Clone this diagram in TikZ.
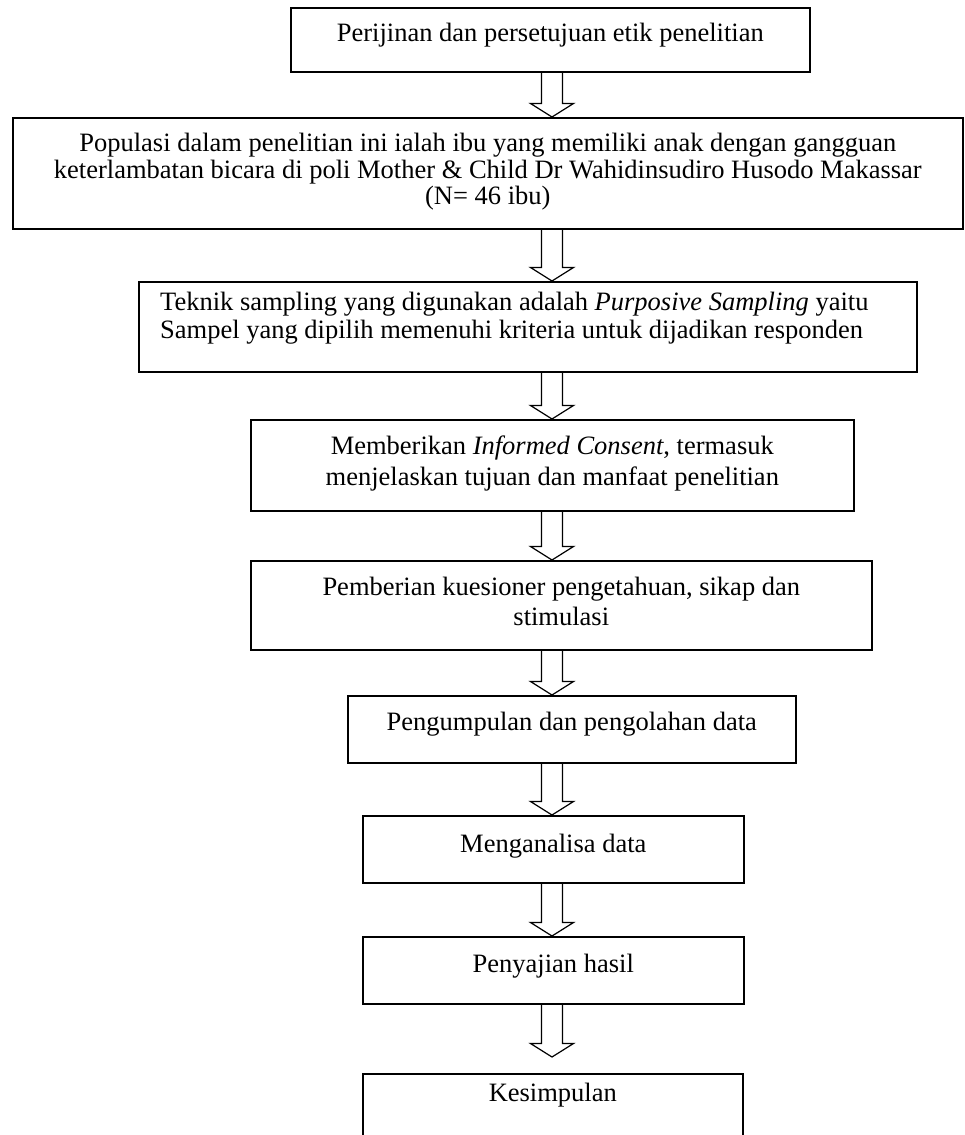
\documentclass[tikz,border=0pt]{standalone}
\usepackage{fontspec}
\setmainfont{Liberation Serif}
\begin{document}
\begin{tikzpicture}[x=1pt, y=1pt,
	box/.style={draw, line width=1.6pt, inner sep=0pt, anchor=north west},
	txt/.style={font=\fontsize{26.5}{30}\selectfont, inner sep=0pt, anchor=north, align=center},
	blockarrow/.style={draw, line width=1.2pt}]
	\useasboundingbox (0,0) rectangle (964,-1135);
	\coordinate (axis) at (552,0);
	\node[box, minimum width=519, minimum height=64] (b1) at (290,-7) {};
	\node[box, minimum width=950, minimum height=111] at ([xshift=-278, yshift=-110]b1.north west) (b2) {};
	\node[box, minimum width=778, minimum height=90] at ([xshift=126, yshift=-164]b2.north west) (b3) {};
	\node[box, minimum width=603, minimum height=91] at ([xshift=112, yshift=-138]b3.north west) (b4) {};
	\node[box, minimum width=621, minimum height=89] at ([yshift=-141]b4.north west) (b5) {};
	\node[box, minimum width=448, minimum height=67] at ([xshift=97, yshift=-135]b5.north west) (b6) {};
	\node[box, minimum width=381, minimum height=67] at ([xshift=15, yshift=-120]b6.north west) (b7) {};
	\node[box, minimum width=381, minimum height=67] at ([yshift=-121]b7.north west) (b8) {};
	\node[box, minimum width=380, minimum height=66] at ([yshift=-137]b8.north west) (b9) {};

	\node[txt] at ([yshift=-16]b1.north) (t1) {Perijinan dan persetujuan etik penelitian};
	\node[txt, font=\fontsize{26.5}{26.5}\selectfont] at ([yshift=-16]b2.north) (t2) {Populasi dalam penelitian ini ialah ibu yang memiliki anak dengan gangguan\\keterlambatan bicara di poli Mother \& Child Dr Wahidinsudiro Husodo Makassar\\(N= 46 ibu)};
	\node[txt, font=\fontsize{26.5}{28}\selectfont, anchor=north west, align=left] at ([xshift=22, yshift=-11]b3.north west) (t3) {Teknik sampling yang digunakan adalah \textit{Purposive Sampling} yaitu\\Sampel yang dipilih memenuhi kriteria untuk dijadikan responden};
	\node[txt, font=\fontsize{26.5}{31}\selectfont] at ([yshift=-17]b4.north) (t4) {Memberikan \textit{Informed Consent}, termasuk\\menjelaskan tujuan dan manfaat penelitian};
	\node[txt, font=\fontsize{26.5}{29.5}\selectfont] at ([yshift=-17]b5.north) (t5) {Pemberian kuesioner pengetahuan, sikap dan\\stimulasi};
	\node[txt] at ([yshift=-17]b6.north) (t6) {Pengumpulan dan pengolahan data};
	\node[txt] at ([yshift=-19]b7.north) (t7) {Menganalisa data};
	\node[txt] at ([yshift=-18]b8.north) (t8) {Penyajian hasil};
	\node[txt] at ([yshift=-10]b9.north) (t9) {Kesimpulan};

	\foreach \i/\gap [count = \xi] in {2/0, 3/0, 4/0, 5/0, 6/0, 7/0, 8/0, 9/16}
		{
			\path (b\xi.south -| axis) coordinate (top) (b\i.north -| axis) ++(0,\gap) coordinate (tip);
			\draw[blockarrow] ([xshift=-10.5]top) -- ([xshift=-10.5, yshift=13.5]tip) -- ([xshift=-21.5, yshift=13.5]tip) -- (tip) -- ([xshift=21.5, yshift=13.5]tip) -- ([xshift=10.5, yshift=13.5]tip) -- ([xshift=10.5]top);
		}
\end{tikzpicture}
\end{document}
